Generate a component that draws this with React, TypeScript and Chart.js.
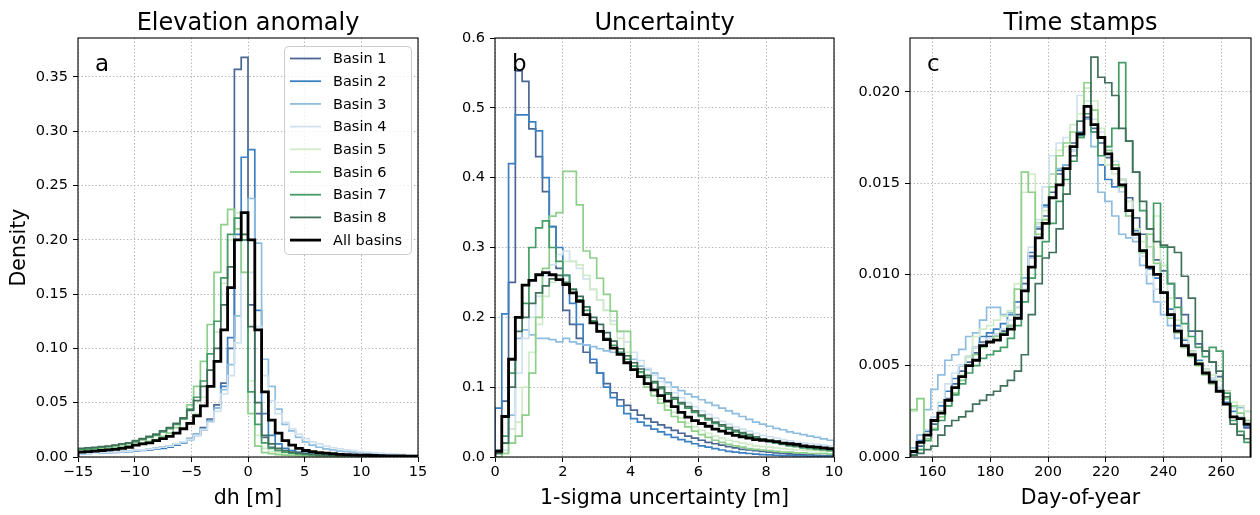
import React, { useEffect, useRef } from "react";
import { Chart, registerables } from "chart.js";

Chart.register(...registerables);

// ---------- shared ----------
const SERIES_LABELS = ["Basin 1", "Basin 2", "Basin 3", "Basin 4", "Basin 5", "Basin 6", "Basin 7", "Basin 8", "All basins"];
const SERIES_COLORS = ["#4a6794", "#3d80c2", "#8fbde0", "#d0e2f0", "#d0ebc8", "#8ed08b", "#449c66", "#41705a", "#000000"];

// ---------- panel a: elevation anomaly (bins over -15..15) ----------
const DH_RANGE = [-15, 15];
const DH_XTICKS = [-15, -10, -5, 0, 5, 10, 15];
const DH_YTICKS = [0, 0.05, 0.1, 0.15, 0.2, 0.25, 0.3, 0.35];
const DH_YMAX = 0.3858;
const DH_B1 = [0.0035,0.0037,0.004,0.0042,0.0045,0.0048,0.005,0.0055,0.006,0.0065,0.007,0.008,0.009,0.010,0.012,0.014,0.017,0.021,0.027,0.035,0.048,0.068,0.1,0.357,0.368,0.14,0.04,0.018,0.009,0.006,0.004,0.003,0.0025,0.002,0.0018,0.0015,0.0013,0.0011,0.001,0.0009,0.0008,0.0007,0.0006,0.0006,0.0005,0.0005,0.0004,0.0004,0.0003,0.0003];
const DH_B2 = [0.003,0.0032,0.0035,0.0038,0.004,0.0043,0.0046,0.005,0.0055,0.006,0.0066,0.0073,0.008,0.009,0.011,0.013,0.016,0.02,0.025,0.033,0.045,0.065,0.11,0.205,0.276,0.283,0.135,0.04,0.02,0.012,0.008,0.006,0.0045,0.0035,0.003,0.0025,0.002,0.0018,0.0016,0.0014,0.0012,0.001,0.0009,0.0008,0.0007,0.0006,0.0006,0.0005,0.0005,0.0004];
const DH_B3 = [0.003,0.0033,0.0036,0.004,0.0043,0.0047,0.005,0.0055,0.006,0.0066,0.0072,0.008,0.009,0.010,0.012,0.014,0.017,0.021,0.026,0.033,0.045,0.062,0.085,0.13,0.2,0.238,0.197,0.09,0.065,0.044,0.03,0.024,0.018,0.014,0.011,0.009,0.0075,0.0065,0.0055,0.005,0.0045,0.004,0.0035,0.003,0.0028,0.0025,0.0022,0.002,0.0018,0.0016];
const DH_B4 = [0.003,0.0033,0.0036,0.004,0.0043,0.0047,0.005,0.0055,0.006,0.0066,0.0072,0.008,0.009,0.010,0.012,0.014,0.016,0.02,0.025,0.032,0.042,0.058,0.075,0.105,0.17,0.17,0.12,0.075,0.052,0.04,0.032,0.026,0.021,0.017,0.014,0.012,0.01,0.0085,0.0075,0.0065,0.0058,0.005,0.0045,0.004,0.0036,0.0032,0.0028,0.0025,0.0022,0.002];
const DH_B5 = [0.005,0.0055,0.006,0.0065,0.007,0.0078,0.0085,0.0095,0.0105,0.012,0.0135,0.015,0.017,0.019,0.022,0.026,0.032,0.04,0.055,0.08,0.115,0.16,0.2,0.225,0.205,0.07,0.02,0.008,0.005,0.004,0.003,0.0025,0.002,0.0018,0.0016,0.0014,0.0012,0.001,0.0009,0.0008,0.0007,0.0006,0.0006,0.0005,0.0005,0.0004,0.0004,0.0003,0.0003,0.0003];
const DH_B6 = [0.006,0.0065,0.007,0.0075,0.008,0.0088,0.0096,0.0105,0.0115,0.013,0.0145,0.016,0.019,0.022,0.027,0.035,0.048,0.065,0.088,0.122,0.17,0.214,0.228,0.21,0.17,0.04,0.01,0.004,0.003,0.0022,0.0018,0.0015,0.0012,0.001,0.0009,0.0008,0.0007,0.0006,0.0006,0.0005,0.0005,0.0004,0.0004,0.0004,0.0003,0.0003,0.0003,0.0002,0.0002,0.0002];
const DH_B7 = [0.007,0.0075,0.008,0.009,0.0095,0.0105,0.0115,0.0125,0.014,0.016,0.018,0.02,0.023,0.026,0.03,0.035,0.044,0.055,0.07,0.095,0.125,0.165,0.205,0.22,0.2,0.06,0.03,0.013,0.008,0.006,0.0045,0.0035,0.0028,0.0023,0.002,0.0017,0.0015,0.0013,0.0011,0.001,0.0009,0.0008,0.0007,0.0006,0.0006,0.0005,0.0005,0.0004,0.0004,0.0004];
const DH_B8 = [0.008,0.0085,0.009,0.0095,0.010,0.011,0.012,0.013,0.015,0.017,0.019,0.021,0.024,0.027,0.031,0.036,0.043,0.052,0.065,0.08,0.1,0.14,0.175,0.2,0.205,0.12,0.05,0.02,0.012,0.008,0.006,0.0045,0.0035,0.003,0.0025,0.002,0.0018,0.0016,0.0014,0.0012,0.0011,0.001,0.0009,0.0008,0.0007,0.0007,0.0006,0.0006,0.0005,0.0005];
const DH_ALL = [0.0045,0.005,0.0055,0.006,0.0065,0.007,0.008,0.009,0.011,0.012,0.013,0.015,0.017,0.019,0.022,0.026,0.031,0.038,0.047,0.065,0.088,0.117,0.156,0.2,0.225,0.2,0.117,0.06,0.034,0.022,0.015,0.011,0.008,0.006,0.005,0.004,0.0035,0.003,0.0025,0.0022,0.002,0.0018,0.0016,0.0014,0.0012,0.001,0.001,0.0009,0.0008,0.0007];

// ---------- panel b: uncertainty (bins over 0..10) ----------
const UN_RANGE = [0, 10];
const UN_XTICKS = [0, 2, 4, 6, 8, 10];
const UN_YTICKS = [0, 0.1, 0.2, 0.3, 0.4, 0.5, 0.6];
const UN_YMAX = 0.6;
const UN_B1 = [0.01,0.08,0.25,0.553,0.538,0.47,0.43,0.38,0.33,0.27,0.21,0.19,0.17,0.15,0.135,0.12,0.105,0.092,0.082,0.074,0.067,0.06,0.055,0.05,0.046,0.042,0.038,0.034,0.03,0.027,0.024,0.021,0.019,0.017,0.015,0.013,0.011,0.01,0.009,0.008,0.007,0.006,0.005,0.0045,0.004,0.0035,0.003,0.0025,0.002,0.002];
const UN_B2 = [0.07,0.205,0.42,0.49,0.49,0.48,0.467,0.4,0.33,0.3,0.26,0.22,0.19,0.16,0.14,0.12,0.1,0.085,0.073,0.062,0.055,0.05,0.045,0.04,0.036,0.032,0.028,0.025,0.022,0.019,0.016,0.014,0.012,0.01,0.008,0.007,0.006,0.005,0.004,0.0035,0.003,0.0025,0.002,0.002,0.0015,0.0015,0.001,0.001,0.001,0.001];
const UN_B3 = [0.0,0.02,0.06,0.17,0.182,0.175,0.17,0.17,0.168,0.165,0.17,0.165,0.162,0.16,0.158,0.155,0.152,0.15,0.148,0.145,0.14,0.13,0.125,0.12,0.113,0.107,0.1,0.095,0.09,0.086,0.082,0.078,0.074,0.07,0.066,0.062,0.058,0.054,0.05,0.047,0.044,0.041,0.039,0.036,0.034,0.032,0.03,0.028,0.026,0.024];
const UN_B4 = [0.0,0.01,0.04,0.12,0.17,0.2,0.23,0.26,0.275,0.29,0.295,0.28,0.27,0.255,0.24,0.225,0.21,0.195,0.18,0.165,0.15,0.138,0.127,0.117,0.108,0.1,0.092,0.085,0.078,0.072,0.066,0.061,0.056,0.051,0.047,0.043,0.04,0.037,0.034,0.031,0.029,0.027,0.025,0.023,0.021,0.02,0.019,0.018,0.017,0.016];
const UN_B5 = [0.0,0.005,0.02,0.05,0.1,0.15,0.19,0.23,0.25,0.26,0.28,0.28,0.275,0.26,0.24,0.225,0.21,0.19,0.17,0.15,0.135,0.12,0.106,0.094,0.083,0.073,0.064,0.056,0.049,0.043,0.038,0.034,0.03,0.027,0.024,0.022,0.02,0.018,0.016,0.015,0.014,0.013,0.012,0.011,0.01,0.01,0.009,0.009,0.008,0.008];
const UN_B6 = [0.0,0.005,0.02,0.03,0.06,0.12,0.2,0.27,0.345,0.35,0.409,0.409,0.361,0.295,0.285,0.256,0.233,0.209,0.18,0.18,0.13,0.115,0.1,0.088,0.077,0.067,0.058,0.05,0.043,0.037,0.032,0.028,0.024,0.021,0.018,0.016,0.014,0.012,0.011,0.01,0.009,0.008,0.007,0.007,0.006,0.006,0.005,0.005,0.005,0.004];
const UN_B7 = [0.005,0.03,0.12,0.2,0.22,0.3,0.328,0.338,0.3,0.28,0.26,0.24,0.225,0.21,0.195,0.18,0.17,0.16,0.15,0.14,0.13,0.122,0.114,0.106,0.098,0.09,0.083,0.076,0.07,0.064,0.058,0.053,0.048,0.044,0.04,0.036,0.033,0.03,0.027,0.025,0.022,0.02,0.018,0.016,0.015,0.013,0.012,0.011,0.01,0.009];
const UN_B8 = [0.005,0.02,0.1,0.18,0.2,0.22,0.235,0.245,0.255,0.26,0.25,0.24,0.23,0.215,0.2,0.19,0.178,0.166,0.155,0.145,0.135,0.126,0.117,0.108,0.1,0.092,0.085,0.078,0.072,0.066,0.06,0.055,0.05,0.046,0.042,0.038,0.035,0.032,0.029,0.026,0.024,0.022,0.02,0.018,0.016,0.015,0.014,0.013,0.012,0.011];
const UN_ALL = [0.008,0.058,0.14,0.2,0.246,0.253,0.261,0.264,0.261,0.254,0.247,0.235,0.223,0.204,0.192,0.18,0.168,0.156,0.147,0.135,0.125,0.115,0.105,0.096,0.088,0.08,0.072,0.064,0.057,0.052,0.048,0.044,0.04,0.037,0.034,0.031,0.029,0.027,0.025,0.024,0.023,0.022,0.02,0.019,0.018,0.016,0.015,0.014,0.013,0.012];

// ---------- panel c: time stamps (bins over day 152.2..270.3) ----------
const DOY_RANGE = [152.2, 270.3];
const DOY_XTICKS = [160, 180, 200, 220, 240, 260];
const DOY_YTICKS = [0, 0.005, 0.01, 0.015, 0.02];
const DOY_YMAX = 0.02295;
const DOY_B1 = [0.0002,0.0006,0.0012,0.0018,0.0025,0.0032,0.004,0.0047,0.0052,0.0057,0.0063,0.0066,0.0067,0.0069,0.0072,0.0078,0.0095,0.011,0.0125,0.0132,0.0145,0.0155,0.016,0.0172,0.0178,0.0186,0.018,0.0172,0.0164,0.0158,0.0152,0.0142,0.0131,0.0122,0.0115,0.0108,0.0102,0.0095,0.0087,0.0078,0.0069,0.0062,0.0058,0.0052,0.0044,0.0036,0.0028,0.0022,0.0016];
const DOY_B2 = [0.0003,0.0009,0.0014,0.0022,0.0028,0.0036,0.0043,0.005,0.0055,0.006,0.0066,0.0068,0.007,0.0073,0.0078,0.0085,0.0098,0.0112,0.0128,0.0138,0.0155,0.0157,0.016,0.0168,0.0176,0.0185,0.0178,0.016,0.0152,0.0148,0.0145,0.0135,0.0124,0.0112,0.0103,0.0098,0.009,0.0081,0.0072,0.0064,0.0058,0.0053,0.0048,0.0043,0.0036,0.003,0.0025,0.0021,0.0017];
const DOY_B3 = [0.0005,0.0012,0.0026,0.0037,0.0045,0.0053,0.0056,0.0059,0.0066,0.0068,0.0075,0.0082,0.0082,0.0078,0.0079,0.0082,0.0098,0.0109,0.0126,0.0137,0.0155,0.0158,0.016,0.0165,0.0178,0.0185,0.017,0.0145,0.014,0.0132,0.0122,0.012,0.0118,0.0105,0.0095,0.0085,0.0078,0.0072,0.0065,0.006,0.0056,0.0052,0.0046,0.0042,0.0038,0.0033,0.0028,0.0027,0.0025];
const DOY_B4 = [0.0002,0.0008,0.0015,0.0022,0.003,0.004,0.0046,0.005,0.0055,0.006,0.0062,0.0065,0.0067,0.007,0.0075,0.0082,0.0092,0.0115,0.013,0.0148,0.0165,0.0172,0.0175,0.0168,0.0198,0.0195,0.0185,0.0178,0.017,0.0162,0.0145,0.0132,0.012,0.011,0.01,0.0092,0.0085,0.0077,0.007,0.0062,0.0057,0.0052,0.0048,0.0043,0.0038,0.0032,0.0027,0.0022,0.0018];
const DOY_B5 = [0.0025,0.0032,0.0012,0.0016,0.0025,0.0031,0.0038,0.0045,0.0055,0.0066,0.007,0.0072,0.0075,0.0077,0.008,0.0095,0.0145,0.0155,0.0128,0.0135,0.0155,0.0168,0.017,0.0182,0.0188,0.0202,0.0195,0.018,0.016,0.0155,0.0152,0.014,0.0125,0.0118,0.0115,0.0132,0.0105,0.0087,0.0075,0.0065,0.0058,0.0052,0.0048,0.0045,0.0042,0.0036,0.003,0.0028,0.0025];
const DOY_B6 = [0.0026,0.0032,0.001,0.0015,0.0022,0.0028,0.0035,0.0042,0.005,0.0056,0.006,0.0063,0.0066,0.0068,0.0072,0.0092,0.0156,0.0145,0.0122,0.013,0.0148,0.0165,0.0172,0.0178,0.0175,0.0205,0.019,0.0175,0.0168,0.016,0.0148,0.0132,0.0122,0.0112,0.0122,0.0106,0.009,0.0076,0.0068,0.006,0.0055,0.005,0.0045,0.004,0.0036,0.0032,0.0028,0.0024,0.002];
const DOY_B7 = [0.0001,0.0004,0.0009,0.0015,0.002,0.0028,0.0034,0.004,0.0046,0.005,0.0054,0.0056,0.0058,0.006,0.0065,0.0072,0.0085,0.0098,0.011,0.0118,0.0128,0.014,0.0152,0.0162,0.0175,0.0188,0.0178,0.0165,0.017,0.018,0.0216,0.0173,0.0156,0.0135,0.0125,0.0139,0.0115,0.0095,0.0082,0.0073,0.0066,0.006,0.0055,0.006,0.0058,0.0035,0.002,0.0014,0.0008];
const DOY_B8 = [0.0001,0.0002,0.0004,0.0006,0.0012,0.0017,0.002,0.0022,0.0025,0.0029,0.0031,0.0034,0.0036,0.0039,0.0042,0.0047,0.0056,0.0078,0.0095,0.0109,0.0112,0.0125,0.0144,0.0165,0.0184,0.0192,0.0219,0.0208,0.0205,0.0198,0.018,0.0173,0.0156,0.014,0.0125,0.0118,0.0116,0.0115,0.0112,0.0099,0.0087,0.0069,0.0058,0.0052,0.0047,0.0033,0.0018,0.0012,0.001];
const DOY_ALL = [0.0003,0.0008,0.0012,0.002,0.0024,0.0031,0.0038,0.0044,0.005,0.0053,0.0061,0.0063,0.0064,0.0067,0.007,0.0076,0.0091,0.0104,0.012,0.0128,0.0142,0.0149,0.0158,0.017,0.0177,0.0192,0.0182,0.0175,0.0166,0.0158,0.0149,0.0135,0.0122,0.0113,0.0104,0.01,0.009,0.0078,0.0069,0.0061,0.0056,0.0051,0.0046,0.0041,0.0036,0.0029,0.0022,0.0021,0.0018];

// ---------- layout ----------
const W = 1260;
const H = 515;
const PLOT_TOP = 38;
const PLOT_BOTTOM = 457;
const FONT = '"DejaVu Sans", "Liberation Sans", sans-serif';

type PanelDef = {
  canvasLeft: number;
  canvasWidth: number;
  plotLeft: number;
  plotRight: number;
  range: number[];
  yMax: number;
  xTicks: number[];
  yTicks: number[];
  yDec: number;
  series: number[][];
  title: string;
  letter: string;
  xLabel: string;
  yLabel?: string;
  legend?: boolean;
};

const PANELS: PanelDef[] = [
  {
    canvasLeft: 0, canvasWidth: 440, plotLeft: 78, plotRight: 418,
    range: DH_RANGE, yMax: DH_YMAX, xTicks: DH_XTICKS, yTicks: DH_YTICKS, yDec: 2,
    series: [DH_B1, DH_B2, DH_B3, DH_B4, DH_B5, DH_B6, DH_B7, DH_B8, DH_ALL],
    title: "Elevation anomaly", letter: "a", xLabel: "dh [m]", yLabel: "Density", legend: true,
  },
  {
    canvasLeft: 440, canvasWidth: 415, plotLeft: 495, plotRight: 834,
    range: UN_RANGE, yMax: UN_YMAX, xTicks: UN_XTICKS, yTicks: UN_YTICKS, yDec: 1,
    series: [UN_B1, UN_B2, UN_B3, UN_B4, UN_B5, UN_B6, UN_B7, UN_B8, UN_ALL],
    title: "Uncertainty", letter: "b", xLabel: "1-sigma uncertainty [m]",
  },
  {
    canvasLeft: 845, canvasWidth: 415, plotLeft: 910, plotRight: 1251,
    range: DOY_RANGE, yMax: DOY_YMAX, xTicks: DOY_XTICKS, yTicks: DOY_YTICKS, yDec: 3,
    series: [DOY_B1, DOY_B2, DOY_B3, DOY_B4, DOY_B5, DOY_B6, DOY_B7, DOY_B8, DOY_ALL],
    title: "Time stamps", letter: "c", xLabel: "Day-of-year",
  },
];

function stepPoints(values: number[], lo: number, hi: number) {
  const n = values.length;
  const w = (hi - lo) / n;
  const pts: { x: number; y: number }[] = [{ x: lo, y: 0 }];
  values.forEach((v, i) => pts.push({ x: lo + i * w, y: v }));
  pts.push({ x: hi, y: 0 });
  return pts;
}

function fmtX(v: number) {
  return v < 0 ? "\u2212" + Math.abs(v) : String(v);
}

function makeDecor(p: PanelDef) {
  return {
    id: "decor",
    afterDraw(chart: any) {
      const { ctx, chartArea: ca } = chart;
      ctx.save();
      // frame
      ctx.strokeStyle = "#000";
      ctx.lineWidth = 1.1;
      ctx.strokeRect(ca.left, ca.top, ca.right - ca.left, ca.bottom - ca.top);

      const cx = (ca.left + ca.right) / 2;
      ctx.fillStyle = "#000";
      // title
      ctx.font = `24px ${FONT}`;
      ctx.textAlign = "center";
      ctx.textBaseline = "alphabetic";
      ctx.fillText(p.title, cx, 29.5);
      // x label
      ctx.font = `20.5px ${FONT}`;
      ctx.fillText(p.xLabel, cx, 504);
      // y label
      if (p.yLabel) {
        ctx.save();
        ctx.translate(24.5, (ca.top + ca.bottom) / 2);
        ctx.rotate(-Math.PI / 2);
        ctx.fillText(p.yLabel, 0, 0);
        ctx.restore();
      }
      // panel letter
      ctx.font = `23px ${FONT}`;
      ctx.textAlign = "left";
      ctx.fillText(p.letter, ca.left + 17, 71);

      // legend
      if (p.legend) {
        const bx = ca.left + 206.5;
        const by = ca.top + 8.5;
        const bw = 127;
        const bh = 208;
        ctx.beginPath();
        ctx.roundRect(bx, by, bw, bh, 4);
        ctx.fillStyle = "rgba(255,255,255,0.8)";
        ctx.fill();
        ctx.strokeStyle = "#cccccc";
        ctx.lineWidth = 1;
        ctx.stroke();
        ctx.font = `14.5px ${FONT}`;
        ctx.textBaseline = "middle";
        SERIES_LABELS.forEach((lab, i) => {
          const y = ca.top + 20.5 + i * 22.7;
          ctx.beginPath();
          ctx.moveTo(ca.left + 212, y);
          ctx.lineTo(ca.left + 243, y);
          ctx.strokeStyle = SERIES_COLORS[i];
          ctx.lineWidth = i === 8 ? 2.8 : 1.8;
          ctx.stroke();
          ctx.fillStyle = "#000";
          ctx.fillText(lab, ca.left + 255, y + 1);
        });
      }
      ctx.restore();
    },
  };
}

function makeConfig(p: PanelDef): any {
  const datasets = p.series.map((vals, i) => ({
    label: SERIES_LABELS[i],
    data: stepPoints(vals, p.range[0], p.range[1]),
    borderColor: SERIES_COLORS[i],
    backgroundColor: SERIES_COLORS[i],
    borderWidth: i === 8 ? 2.8 : 1.7,
    pointRadius: 0,
    stepped: "before",
    fill: false,
    order: 8 - i,
  }));
  const tickFont = { family: FONT, size: 14.5 };
  const grid = {
    color: "#b0b0b0",
    lineWidth: 1,
    drawTicks: true,
    tickLength: 5,
    tickColor: "#000",
    tickWidth: 1,
    tickBorderDash: [],
  };
  const border = { display: false, dash: [1.3, 2.2] };
  return {
    type: "line",
    data: { datasets },
    options: {
      responsive: false,
      maintainAspectRatio: false,
      animation: false,
      events: [],
      layout: {
        padding: {
          left: 0,
          top: PLOT_TOP,
          right: p.canvasWidth - (p.plotRight - p.canvasLeft),
          bottom: 0,
        },
      },
      plugins: {
        legend: { display: false },
        title: { display: false },
        tooltip: { enabled: false },
      },
      scales: {
        x: {
          type: "linear",
          min: p.range[0],
          max: p.range[1],
          afterFit: (s: any) => { s.height = H - PLOT_BOTTOM; },
          afterBuildTicks: (s: any) => { s.ticks = p.xTicks.map((v) => ({ value: v })); },
          ticks: {
            font: tickFont,
            color: "#000",
            padding: 2,
            maxRotation: 0,
            minRotation: 0,
            autoSkip: false,
            callback: (v: number) => fmtX(v),
          },
          grid,
          border,
        },
        y: {
          type: "linear",
          min: 0,
          max: p.yMax,
          afterFit: (s: any) => { s.width = p.plotLeft - p.canvasLeft; },
          afterBuildTicks: (s: any) => { s.ticks = p.yTicks.map((v) => ({ value: v })); },
          ticks: {
            font: tickFont,
            color: "#000",
            padding: 5,
            autoSkip: false,
            callback: (v: number) => Number(v).toFixed(p.yDec),
          },
          grid,
          border,
        },
      },
    },
    plugins: [makeDecor(p)],
  };
}

export default function App() {
  const r0 = useRef<HTMLCanvasElement>(null);
  const r1 = useRef<HTMLCanvasElement>(null);
  const r2 = useRef<HTMLCanvasElement>(null);
  const refs = [r0, r1, r2];

  useEffect(() => {
    document.body.style.margin = "0";
    Chart.defaults.font.family = FONT;
    const charts = PANELS.map((p, i) => new Chart(refs[i].current as HTMLCanvasElement, makeConfig(p)));
    return () => charts.forEach((c) => c.destroy());
  }, []);

  return (
    <div style={{ position: "absolute", left: 0, top: 0, width: W, height: H, background: "#fff", overflow: "hidden" }}>
      {PANELS.map((p, i) => (
        <canvas
          key={i}
          ref={refs[i]}
          width={p.canvasWidth}
          height={H}
          style={{ position: "absolute", left: p.canvasLeft, top: 0, width: p.canvasWidth, height: H }}
        />
      ))}
    </div>
  );
}
